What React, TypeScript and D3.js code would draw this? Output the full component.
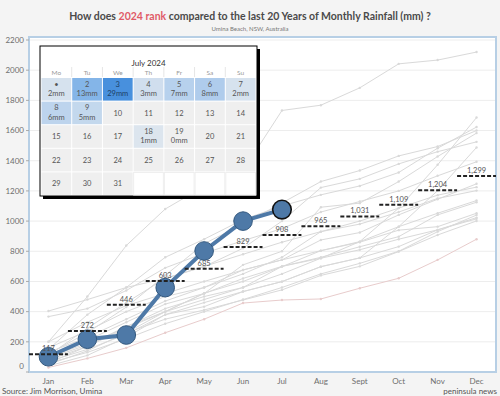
import React, { useRef, useEffect } from "react";
import * as d3 from "d3";

const months = ["Jan", "Feb", "Mar", "Apr", "May", "Jun", "Jul", "Aug", "Sept", "Oct", "Nov", "Dec"];

// cumulative 2024 rainfall (mm), Jan-Jul
const rain2024 = [101, 217, 245, 559, 802, 1000, 1076];

// average cumulative rainfall of the last 20 years
const monthAvg = [117, 272, 446, 603, 685, 829, 908, 965, 1031, 1109, 1204, 1299];

// cumulative rainfall of previous years (grey lines)
const pastYears: number[][] = [
  [200, 500, 838, 1080, 1230, 1335, 1733, 1768, 1883, 2042, 2067, 2120],
  [90, 180, 300, 420, 500, 560, 700, 754, 864, 1086, 1373, 1686],
  [150, 380, 560, 760, 880, 1010, 1100, 1174, 1233, 1322, 1483, 1623],
  [120, 260, 430, 640, 850, 980, 1120, 1262, 1335, 1432, 1494, 1600],
  [60, 170, 300, 400, 520, 710, 800, 1092, 1119, 1262, 1428, 1583],
  [110, 290, 460, 620, 698, 820, 1000, 1222, 1280, 1379, 1460, 1525],
  [70, 150, 250, 380, 433, 533, 599, 698, 756, 963, 1202, 1488],
  [367, 420, 540, 690, 787, 870, 950, 1060, 1130, 1200, 1300, 1393],
  [200, 330, 440, 520, 600, 676, 743, 875, 924, 1041, 1145, 1247],
  [130, 230, 350, 470, 560, 650, 760, 930, 1000, 1086, 1172, 1225],
  [404, 480, 560, 620, 700, 780, 860, 930, 980, 1060, 1150, 1202],
  [50, 140, 260, 400, 522, 600, 698, 804, 864, 963, 1052, 1136],
  [90, 210, 330, 450, 520, 620, 700, 760, 830, 897, 1041, 1125],
  [160, 272, 400, 500, 560, 676, 743, 804, 860, 940, 963, 1052],
  [40, 110, 230, 380, 460, 533, 599, 698, 756, 831, 942, 1023],
  [80, 170, 290, 400, 480, 560, 650, 754, 810, 880, 942, 1015],
  [100, 190, 260, 350, 411, 477, 544, 640, 700, 798, 908, 1001],
  [60, 130, 220, 320, 400, 480, 560, 650, 720, 800, 930, 1040],
];
// the driest year, drawn in a faint red
const dryYear = [30, 90, 160, 260, 350, 457, 477, 484, 555, 621, 743, 880];

const yTicks = [0, 200, 400, 600, 800, 1000, 1200, 1400, 1600, 1800, 2000, 2200];

// July 2024 calendar
const weekdays = ["Mo", "Tu", "We", "Th", "Fr", "Sa", "Su"];
const julyDays = Array.from({ length: 31 }, (_, i) => i + 1);
const rainDays = [1, 2, 3, 4, 5, 6, 7, 8, 9, 18, 19];
const rainMm = [2, 13, 29, 3, 7, 8, 2, 6, 5, 1, 0];

function App() {
  const svgRef = useRef<SVGSVGElement>(null);

  useEffect(() => {
    document.body.style.margin = "0";
    if (!svgRef.current) return;
    const svg = d3.select(svgRef.current);
    svg.selectAll("*").remove();
    const width = 500;
    const height = 396;
    const font = "Lato, 'Open Sans', sans-serif";

    svg.attr("width", width).attr("height", height).style("display", "block");
    svg.append("rect").attr("width", width).attr("height", height).attr("fill", "#f4f4f4");

    const left = 29;
    const right = 496;
    const top = 37;
    const bottom = 372;

    const x = d3.scaleBand().domain(months).range([left, right]);
    const y = d3.scaleLinear().domain([0, 2200]).range([bottom, 40]);
    const cx = (m: string) => (x(m) || 0) + x.bandwidth() / 2;

    // title
    const title = svg
      .append("text")
      .attr("x", 250)
      .attr("y", 20)
      .attr("text-anchor", "middle")
      .attr("font-family", font)
      .attr("font-size", 10.5)
      .attr("font-weight", 700)
      .attr("fill", "#4a4a4a");
    title.append("tspan").text("How does ");
    title.append("tspan").attr("fill", "#e05a67").text("2024 rank");
    title.append("tspan").text(" compared to the last 20 Years of Monthly Rainfall (mm) ?");
    svg
      .append("text")
      .attr("x", 250)
      .attr("y", 31)
      .attr("text-anchor", "middle")
      .attr("font-family", font)
      .attr("font-size", 6)
      .attr("fill", "#777")
      .text("Umina Beach, NSW, Australia");

    // plot area
    svg
      .append("rect")
      .attr("x", left)
      .attr("y", top)
      .attr("width", right - left)
      .attr("height", bottom - top)
      .attr("fill", "#fff")
      .attr("stroke", "#b7cfe5")
      .attr("stroke-width", 2);

    svg
      .append("g")
      .selectAll("line")
      .data(yTicks.slice(1))
      .enter()
      .append("line")
      .attr("x1", left + 1)
      .attr("x2", right - 1)
      .attr("y1", (d) => y(d))
      .attr("y2", (d) => y(d))
      .attr("stroke", "#ededed");

    const yAxis = svg.append("g").attr("font-family", font).attr("font-size", 8).attr("fill", "#6e6e6e");
    yAxis
      .selectAll("text")
      .data(yTicks)
      .enter()
      .append("text")
      .attr("x", left - 5)
      .attr("y", (d) => Math.min(y(d), 366))
      .attr("dy", "0.35em")
      .attr("text-anchor", "end")
      .text((d) => d);
    yAxis
      .selectAll("line")
      .data(yTicks)
      .enter()
      .append("line")
      .attr("x1", left - 3)
      .attr("x2", left)
      .attr("y1", (d) => y(d))
      .attr("y2", (d) => y(d))
      .attr("stroke", "#aaa");

    svg
      .append("g")
      .selectAll("text")
      .data(months)
      .enter()
      .append("text")
      .attr("x", (d) => cx(d))
      .attr("y", 384)
      .attr("text-anchor", "middle")
      .attr("font-family", font)
      .attr("font-size", 8)
      .attr("fill", "#6e6e6e")
      .text((d) => d);

    // footer
    svg
      .append("text")
      .attr("x", 2)
      .attr("y", 394)
      .attr("font-family", font)
      .attr("font-size", 8)
      .attr("fill", "#555")
      .text("Source: Jim Morrison, Umina");
    svg
      .append("text")
      .attr("x", 497)
      .attr("y", 394)
      .attr("text-anchor", "end")
      .attr("font-family", font)
      .attr("font-size", 8)
      .attr("fill", "#555")
      .text("peninsula news");

    // past years
    const line = d3
      .line<number>()
      .x((_, i) => cx(months[i]))
      .y((d) => y(d));
    const years = [...pastYears.map((v) => ({ v, c: "#d9d9d9" })), { v: dryYear, c: "#e8cccc" }];
    years.forEach((yr) => {
      svg.append("path").attr("d", line(yr.v)).attr("fill", "none").attr("stroke", yr.c).attr("stroke-width", 1);
      svg
        .append("g")
        .selectAll("circle")
        .data(yr.v)
        .enter()
        .append("circle")
        .attr("cx", (_, i) => cx(months[i]))
        .attr("cy", (d) => y(d))
        .attr("r", 1.2)
        .attr("fill", yr.c);
    });

    // 2024
    svg
      .append("path")
      .attr("d", line(rain2024))
      .attr("fill", "none")
      .attr("stroke", "#4e79a7")
      .attr("stroke-width", 4);
    svg
      .append("g")
      .selectAll("circle")
      .data(rain2024)
      .enter()
      .append("circle")
      .attr("cx", (_, i) => cx(months[i]))
      .attr("cy", (d) => y(d))
      .attr("r", 9.3)
      .attr("fill", "#4e79a7")
      .attr("stroke", (_, i) => (i === rain2024.length - 1 ? "#111" : "#34597f"))
      .attr("stroke-width", (_, i) => (i === rain2024.length - 1 ? 1.6 : 1));

    // averages
    const avg = svg.append("g");
    avg
      .selectAll("line")
      .data(monthAvg)
      .enter()
      .append("line")
      .attr("x1", (_, i) => x(months[i]) || 0)
      .attr("x2", (_, i) => (x(months[i]) || 0) + x.bandwidth())
      .attr("y1", (d) => y(d))
      .attr("y2", (d) => y(d))
      .attr("stroke", "#222")
      .attr("stroke-width", 2)
      .attr("stroke-dasharray", "4,2");
    avg
      .selectAll("text")
      .data(monthAvg)
      .enter()
      .append("text")
      .attr("x", (_, i) => cx(months[i]))
      .attr("y", (d) => y(d) - 3)
      .attr("text-anchor", "middle")
      .attr("font-family", font)
      .attr("font-size", 7.5)
      .attr("fill", "#555")
      .text((d) => d3.format(",")(d));

    // calendar
    const cal = svg.append("g");
    const bx = 40;
    const by = 46;
    const bw = 217;
    const bh = 150;
    cal.append("rect").attr("x", bx + 3).attr("y", by + 3).attr("width", bw).attr("height", bh).attr("fill", "#000");
    cal
      .append("rect")
      .attr("x", bx)
      .attr("y", by)
      .attr("width", bw)
      .attr("height", bh)
      .attr("fill", "#fff")
      .attr("stroke", "#000")
      .attr("stroke-width", 1);
    cal
      .append("text")
      .attr("x", bx + bw / 2)
      .attr("y", 65.5)
      .attr("text-anchor", "middle")
      .attr("font-family", font)
      .attr("font-size", 8)
      .attr("fill", "#333")
      .text("July 2024");

    const colX = d3.scaleBand<number>().domain(d3.range(7)).range([bx + 1, bx + bw - 1]);
    const rowY = d3.scaleBand<number>().domain(d3.range(5)).range([77.5, 195.5]);
    const color = d3
      .scaleLinear<string>()
      .domain([1, 7, 13, 29])
      .range(["#dce5ee", "#b7d1ed", "#84b5e8", "#4890dd"]);

    cal
      .selectAll(".wd")
      .data(weekdays)
      .enter()
      .append("text")
      .attr("x", (_, i) => (colX(i) || 0) + colX.bandwidth() / 2)
      .attr("y", 74.5)
      .attr("text-anchor", "middle")
      .attr("font-family", font)
      .attr("font-size", 6.5)
      .attr("fill", "#999")
      .text((d) => d);
    cal
      .selectAll(".sep")
      .data(d3.range(1, 7))
      .enter()
      .append("line")
      .attr("x1", (d) => colX(d) || 0)
      .attr("x2", (d) => colX(d) || 0)
      .attr("y1", 67)
      .attr("y2", 77)
      .attr("stroke", "#e6e6e6");

    const cells = d3.range(35);
    cal
      .selectAll(".cell")
      .data(cells)
      .enter()
      .append("rect")
      .attr("x", (d) => (colX(d % 7) || 0) + 0.5)
      .attr("y", (d) => (rowY(Math.floor(d / 7)) || 0) + 0.5)
      .attr("width", colX.bandwidth() - 1)
      .attr("height", rowY.bandwidth() - 1)
      .attr("fill", (d) => {
        const day = d + 1;
        if (day > julyDays.length) return "#fff";
        const k = rainDays.indexOf(day);
        if (k < 0 || rainMm[k] === 0) return "#efefef";
        return color(rainMm[k]);
      })
      .attr("stroke", (d) => (d + 1 > julyDays.length ? "#eee" : "none"));

    julyDays.forEach((day) => {
      const c = (day - 1) % 7;
      const r = Math.floor((day - 1) / 7);
      const tx = (colX(c) || 0) + colX.bandwidth() / 2;
      const ty = rowY(r) || 0;
      const k = rainDays.indexOf(day);
      const fill = k >= 0 && rainMm[k] >= 20 ? "#1d3f66" : "#555";
      const t = cal
        .append("text")
        .attr("x", tx)
        .attr("text-anchor", "middle")
        .attr("font-family", font)
        .attr("font-size", 7.5)
        .attr("fill", fill);
      if (k >= 0) {
        t.attr("y", ty + 9.3).text(day === 1 ? "•" : String(day));
        cal
          .append("text")
          .attr("x", tx)
          .attr("y", ty + 18.6)
          .attr("text-anchor", "middle")
          .attr("font-family", font)
          .attr("font-size", 7.5)
          .attr("fill", fill)
          .text(rainMm[k] + "mm");
      } else {
        t.attr("y", ty + rowY.bandwidth() / 2 + 2.7).text(String(day));
      }
    });
  }, []);

  return <svg ref={svgRef}></svg>;
}

export default App;
